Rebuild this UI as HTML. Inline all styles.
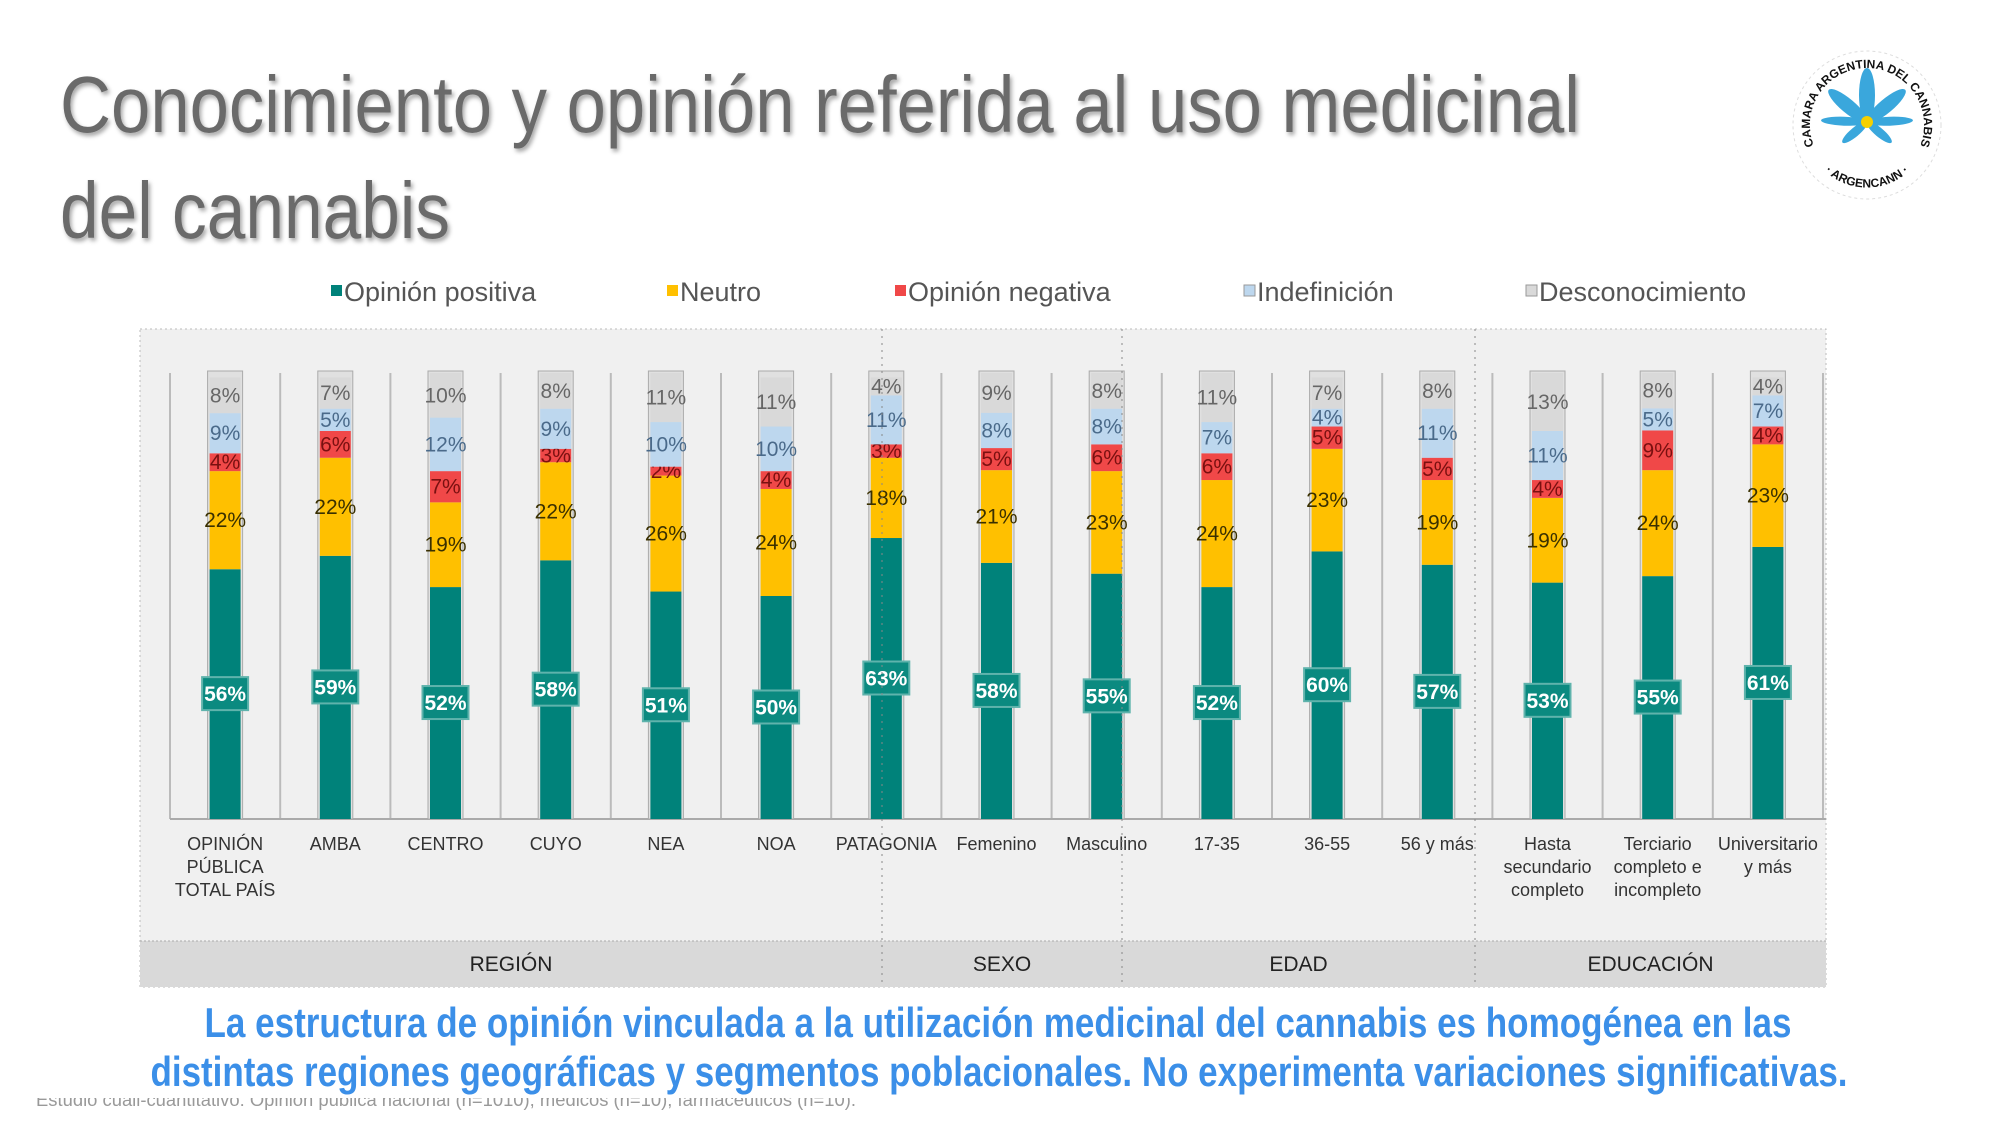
<!DOCTYPE html>
<html><head><meta charset="utf-8">
<style>
html,body{margin:0;padding:0;background:#fff;}
svg{display:block;}
text{font-family:"Liberation Sans Narrow","Liberation Sans",sans-serif;}
</style></head>
<body>
<svg id="chart" width="2000" height="1125" viewBox="0 0 2000 1125" xmlns="http://www.w3.org/2000/svg">
  <defs>
    <filter id="sh" x="-5%" y="-5%" width="110%" height="120%"><feDropShadow dx="2" dy="3" stdDeviation="2" flood-color="#000" flood-opacity="0.35"/></filter>
    <path id="arcTop" d="M1815.3,149.1 A57,57 0 1,1 1918.7,149.1"/>
    <path id="arcBot" d="M1823.3,169.5 A62,62 0 0,0 1910.7,169.5"/>
  </defs>
  <g filter="url(#sh)">
    <text x="60" y="132" font-size="80" fill="#6b6b6b" font-family="Liberation Sans, sans-serif" textLength="1520" lengthAdjust="spacingAndGlyphs">Conocimiento y opinión referida al uso medicinal</text>
    <text x="60" y="238" font-size="80" fill="#6b6b6b" font-family="Liberation Sans, sans-serif" textLength="390" lengthAdjust="spacingAndGlyphs">del cannabis</text>
  </g>
  <g>
    <circle cx="1867" cy="125" r="74" fill="#fff" stroke="#ddd" stroke-dasharray="3,3"/>
    <text font-size="12" font-weight="bold" fill="#111" font-family="Liberation Sans, sans-serif"><textPath href="#arcTop" startOffset="50%" text-anchor="middle">CAMARA ARGENTINA DEL CANNABIS</textPath></text>
    <text font-size="12" font-weight="bold" fill="#111" font-family="Liberation Sans, sans-serif"><textPath href="#arcBot" startOffset="50%" text-anchor="middle">· ARGENCANN ·</textPath></text>
    <g fill="#3aa7dc">
      <ellipse cx="1867" cy="95" rx="8" ry="27"/>
      <ellipse cx="1867" cy="97" rx="7" ry="25" transform="rotate(50 1867 122)"/>
      <ellipse cx="1867" cy="97" rx="7" ry="25" transform="rotate(-50 1867 122)"/>
      <ellipse cx="1867" cy="99" rx="4.5" ry="23" transform="rotate(88 1867 122)"/>
      <ellipse cx="1867" cy="99" rx="4.5" ry="23" transform="rotate(-88 1867 122)"/>
      <ellipse cx="1867" cy="106" rx="4.5" ry="16" transform="rotate(130 1867 122)"/>
      <ellipse cx="1867" cy="106" rx="4.5" ry="16" transform="rotate(-130 1867 122)"/>
    </g>
    <circle cx="1867" cy="122" r="6" fill="#f5d000"/>
  </g>
  <g id="legend"></g>
  <rect x="140" y="329" width="1686" height="658" fill="#f0f0f0" stroke="#bbb" stroke-dasharray="2,3"/>
  <rect x="140" y="941" width="1686" height="46" fill="#d9d9d9"/>
  <line x1="140" y1="941" x2="1826" y2="941" stroke="#aaa" stroke-dasharray="2,2"/>
  <g id="plot"></g>
  <g id="groups"></g>
  <text x="36" y="1106" font-size="18" fill="#999" font-family="Liberation Sans, sans-serif" textLength="820" lengthAdjust="spacingAndGlyphs">Estudio cuali-cuantitativo: Opinión pública nacional (n=1010), médicos (n=10), farmacéuticos (n=10).</text>
  <rect x="0" y="1000" width="2000" height="98" fill="#fff"/>
  <g fill="#3b8fe8" font-weight="bold" text-anchor="middle">
    <text x="998" y="1037" font-size="42" textLength="1587" lengthAdjust="spacingAndGlyphs">La estructura de opinión vinculada a la utilización medicinal del cannabis es homogénea en las</text>
    <text x="999" y="1086" font-size="42" textLength="1697" lengthAdjust="spacingAndGlyphs">distintas regiones geográficas y segmentos poblacionales. No experimenta variaciones significativas.</text>
  </g>
</svg>
<script>
const categories=[["OPINIÓN","PÚBLICA","TOTAL PAÍS"],["AMBA"],["CENTRO"],["CUYO"],["NEA"],["NOA"],["PATAGONIA"],["Femenino"],["Masculino"],["17-35"],["36-55"],["56 y más"],["Hasta","secundario","completo"],["Terciario","completo e","incompleto"],["Universitario","y más"]];
const positive=[56,59,52,58,51,50,63,58,55,52,60,57,53,55,61];
const neutral=[22,22,19,22,26,24,18,21,23,24,23,19,19,24,23];
const negative=[4,6,7,3,2,4,3,5,6,6,5,5,4,9,4];
const undefinedShare=[9,5,12,9,10,10,11,8,8,7,4,11,11,5,7];
const unknown=[8,7,10,8,11,11,4,9,8,11,7,8,13,8,4];
const seriesNames=["Opinión positiva","Neutro","Opinión negativa","Indefinición","Desconocimiento"];
const groupNames=["REGIÓN","SEXO","EDAD","EDUCACIÓN"];

const NS="http://www.w3.org/2000/svg";
const colors=["#00827a","#ffc000","#f04848","#bdd7ee","#d9d9d9"];
const labelColors=["#fff","#3a3000","#7a1010","#4a6a8a","#666"];
const series=[positive,neutral,negative,undefinedShare,unknown];
const x0=170, step=110.2, baseY=819, topY=373, barW=31;
const xCenter=i=>x0+step*(i+0.5);
const yScale=v=>(v/100)*(baseY-topY);
function mk(tag,attrs,parent,txt){const e=document.createElementNS(NS,tag);for(const k in attrs)e.setAttribute(k,attrs[k]);if(txt!==undefined)e.textContent=txt;parent.appendChild(e);return e;}

const lg=document.getElementById('legend');
const legendX=[332,668,896,1245,1527];
seriesNames.forEach((n,s)=>{
  const g=mk('g',{},lg);
  
  
  mk('rect',{x:legendX[s]-1,y:285,width:11,height:11,fill:colors[s],stroke:s>2?'#999':'none'},g);
  mk('text',{x:legendX[s]+12,y:301,'font-size':27,fill:'#555'},g,n);
});

const plot=document.getElementById('plot');
for(let i=0;i<=categories.length;i++){
  const x=x0+step*i;
  const l=mk('line',{x1:x,y1:topY,x2:x,y2:baseY,stroke:'#bbb','stroke-width':2},plot);
  
  
}
mk('line',{x1:x0,y1:baseY,x2:1826,y2:baseY,stroke:'#aaa','stroke-width':2},plot);

categories.forEach((cat,i)=>{
  const cx=xCenter(i);
  const g=mk('g',{},plot);
  
  
  let y=baseY;
  const total=series.reduce((a,s)=>a+s[i],0);
  mk('rect',{x:cx-barW/2-2,y:topY-2,width:barW+4,height:baseY-topY+2,fill:'#e0e0e0',stroke:'#aaa','stroke-width':1},g);
  series.forEach((s,k)=>{
    const h=yScale(s[i]*100/Math.max(total,100));
    const r=mk('rect',{x:cx-barW/2,y:y-h,width:barW,height:h,fill:colors[k]},g);
    
    
    const mid=y-h/2;
    if(k===0){
      mk('rect',{x:cx-23,y:mid-17,width:46,height:33,fill:'#0b8a80',stroke:'#5fb3ac','stroke-width':2},g);
      const t=mk('text',{x:cx,y:mid+7,'font-size':21,'font-weight':'bold',fill:'#fff','text-anchor':'middle'},g,s[i]+'%');
      
      
    } else {
      const t=mk('text',{x:cx,y:mid+7,'font-size':21,fill:labelColors[k],'text-anchor':'middle'},g,s[i]+'%');
      
      
    }
    y-=h;
  });
  cat.forEach((line,j)=>{
    const t=mk('text',{x:cx,y:850+j*23,'font-size':18,fill:'#333','text-anchor':'middle'},plot,line);
    
    
  });
});

const gg=document.getElementById('groups');
const boundaries=[140,882,1122,1475,1826];
groupNames.forEach((n,gi)=>{
  const xa=boundaries[gi], xb=boundaries[gi+1];
  if(gi>0){const l=mk('line',{x1:xa,y1:329,x2:xa,y2:987,stroke:'#888','stroke-dasharray':'2,5'},gg);}
  const t=mk('text',{x:(xa+xb)/2,y:971,'font-size':21,fill:'#222','text-anchor':'middle'},gg,n);
  
  
});
</script>
</body></html>
